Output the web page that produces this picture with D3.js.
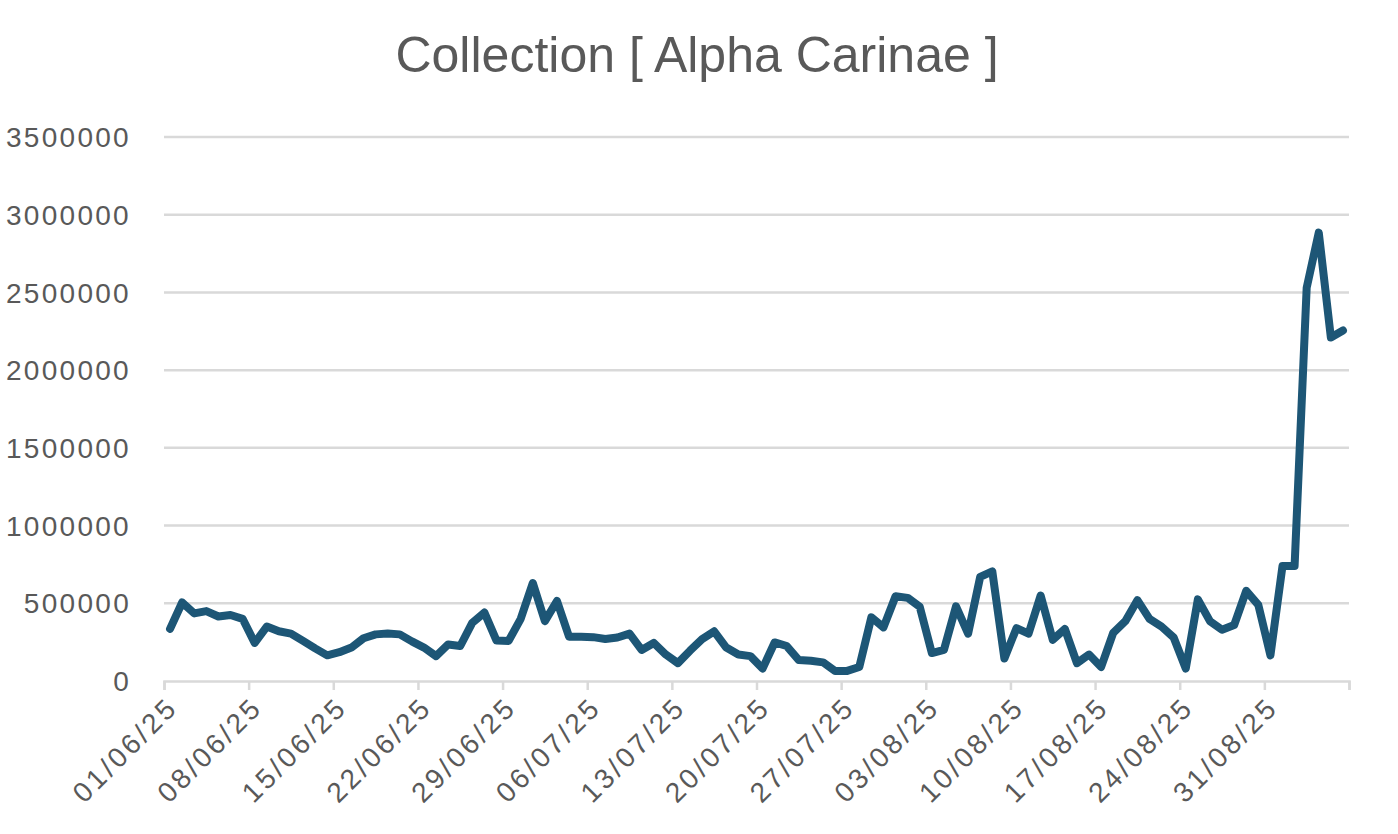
<!DOCTYPE html>
<html>
<head>
<meta charset="utf-8">
<script src="https://cdn.jsdelivr.net/npm/d3@7"></script>
<style>
  html, body { margin: 0; padding: 0; background: #ffffff; }
  svg { display: block; }
</style>
</head>
<body>
<svg id="chart" width="1398" height="834"></svg>
<script>
// ---- data ----
const chartTitle = "Collection [ Alpha Carinae ]";
const startDate = "2025-06-01";
const endDate = "2025-09-07";
const values = [
  335000, 505000, 435000, 450000, 415000, 425000, 400000, 245000, 350000, 320000,
  305000, 258000, 210000, 165000, 185000, 215000, 275000, 300000, 305000, 300000,
  255000, 215000, 160000, 235000, 225000, 375000, 440000, 260000, 258000, 400000,
  630000, 385000, 515000, 285000, 285000, 282000, 270000, 280000, 305000, 200000,
  245000, 170000, 115000, 195000, 270000, 320000, 215000, 170000, 160000, 80000,
  248000, 225000, 135000, 130000, 120000, 65000, 65000, 90000, 410000, 345000,
  545000, 535000, 478000, 180000, 200000, 480000, 305000, 670000, 705000, 145000,
  340000, 305000, 550000, 265000, 335000, 115000, 170000, 90000, 310000, 385000,
  520000, 400000, 350000, 280000, 80000, 525000, 385000, 330000, 360000, 580000,
  490000, 165000, 740000, 740000, 2530000, 2885000, 2210000, 2255000
];
const yTicks = [0, 500000, 1000000, 1500000, 2000000, 2500000, 3000000, 3500000];
const xTickLabels = ["01/06/25", "08/06/25", "15/06/25", "22/06/25", "29/06/25", "06/07/25",
  "13/07/25", "20/07/25", "27/07/25", "03/08/25", "10/08/25", "17/08/25", "24/08/25", "31/08/25", ""];

// ---- layout ----
const svg = d3.select("#chart");
const plotLeft = 164, plotRight = 1349, plotTop = 137, plotBottom = 681;
const parse = d3.utcParse("%Y-%m-%d");
const t0 = parse(startDate), t1 = parse(endDate);
const dates = values.map((v, i) => d3.utcHour.offset(d3.utcDay.offset(t0, i), 12));

const x = d3.scaleUtc().domain([t0, t1]).range([plotLeft, plotRight]);
const y = d3.scaleLinear().domain([0, 3500000]).range([plotBottom, plotTop]);

const textColor = "#595959";
const gridColor = "#d9d9d9";
const lineColor = "#1d5676";
const font = "'Liberation Sans', Arial, sans-serif";

// title
svg.append("text")
  .attr("x", 697).attr("y", 72)
  .attr("text-anchor", "middle")
  .attr("font-family", font)
  .attr("font-size", 50)
  .attr("fill", textColor)
  .text(chartTitle);

// gridlines
svg.append("g").selectAll("line")
  .data(yTicks.filter(d => d > 0))
  .join("line")
  .attr("x1", plotLeft).attr("x2", plotRight)
  .attr("y1", d => y(d)).attr("y2", d => y(d))
  .attr("stroke", gridColor).attr("stroke-width", 2.5);

// y labels
svg.append("g").selectAll("text")
  .data(yTicks)
  .join("text")
  .attr("x", 131)
  .attr("y", d => y(d))
  .attr("dy", "0.36em")
  .attr("text-anchor", "end")
  .attr("font-family", font)
  .attr("font-size", 28)
  .attr("letter-spacing", 2.3)
  .attr("fill", textColor)
  .text(d => d3.format("d")(d));

// x axis
const weekTicks = x.ticks(d3.utcSunday.every(1));
const xAxis = d3.axisBottom(x)
  .tickValues(weekTicks)
  .tickSize(9)
  .tickFormat((d, i) => xTickLabels[i] || "");
const gx = svg.append("g")
  .attr("transform", `translate(0,${plotBottom})`)
  .call(xAxis);
gx.select(".domain").attr("stroke", gridColor).attr("stroke-width", 2.5);
gx.selectAll(".tick line").attr("stroke", gridColor).attr("stroke-width", 2.5);
gx.selectAll(".tick text")
  .attr("font-family", font)
  .attr("font-size", 28)
  .attr("letter-spacing", 3.2)
  .attr("fill", textColor)
  .attr("text-anchor", "end")
  .attr("y", 0).attr("dy", 0)
  .attr("transform", "translate(15,28) rotate(-45)");

// line
const line = d3.line()
  .x((d, i) => x(dates[i]))
  .y(d => y(d));
svg.append("path")
  .datum(values)
  .attr("d", line)
  .attr("fill", "none")
  .attr("stroke", lineColor)
  .attr("stroke-width", 8)
  .attr("stroke-linejoin", "round")
  .attr("stroke-linecap", "round");
</script>
</body>
</html>
